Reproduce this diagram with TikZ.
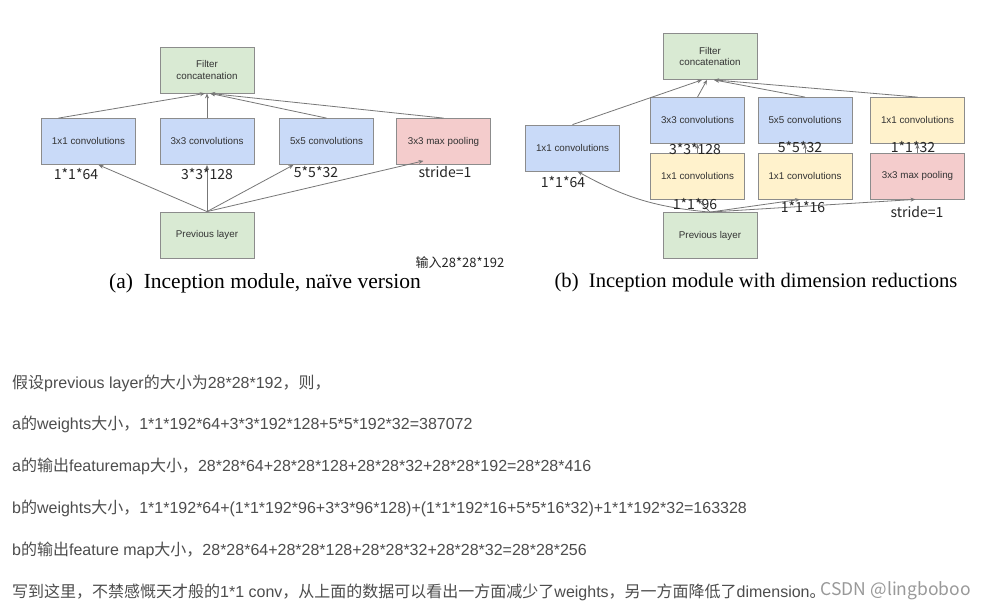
\documentclass[tikz,border=0pt]{standalone}
\usepackage{fontspec}
\setmainfont{Liberation Sans}
\newfontfamily\cjk{Noto Sans CJK SC}
\newfontfamily\capfont{Liberation Serif}
\usepackage{tikz}
\usetikzlibrary{arrows.meta}

\definecolor{boxline}{HTML}{8C8C8C}
\definecolor{convblue}{HTML}{C9DAF8}
\definecolor{catgreen}{HTML}{D9EAD3}
\definecolor{poolpink}{HTML}{F4CCCC}
\definecolor{redyellow}{HTML}{FFF2CC}
\definecolor{bodytext}{HTML}{4D4D4D}
\definecolor{linkgray}{HTML}{777777}

\tikzset{
  layer/.style={draw=boxline, line width=0.8pt, minimum width=94pt, minimum height=46pt,
    inner sep=1pt, align=center, text=black!80, font=\fontsize{9.8}{11.8}\selectfont},
  conv/.style={layer, fill=convblue},
  cat/.style={layer, fill=catgreen},
  pool/.style={layer, fill=poolpink},
  reduce/.style={layer, fill=redyellow},
  size/.style={font=\cjk\fontsize{14}{14}\selectfont, text=black!85, inner sep=0pt},
  link/.style={draw=linkgray, line width=0.8pt, -{Stealth[length=5pt,width=4pt]}},
  caption/.style={inner sep=0pt, font=\capfont\fontsize{21.5}{21.5}\selectfont},
  bodyline/.style={anchor=west, inner sep=0pt, text=bodytext, font=\fontsize{16}{16}\selectfont}
}

\begin{document}
\begin{tikzpicture}[x=1pt,y=-1pt]
\useasboundingbox[fill=white] (0,0) rectangle (983,609);

% (a) naive version
\node[cat]  (aconcat) at (207,70)    {Filter\\concatenation};
\node[conv] (aconv1)  at (88.5,141.5) {1x1 convolutions};
\node[conv] (aconv3)  at (207,141.5)  {3x3 convolutions};
\node[conv] (aconv5)  at (326.5,141.5) {5x5 convolutions};
\node[pool] (apool)   at (443.5,141.5) {3x3 max pooling};
\node[cat]  (aprev)   at (207,235)    {Previous layer};

\draw[link] ([xshift=-30pt]aconv1.north) -- ([xshift=-2pt]aconcat.south);
\draw[link] (aconv3.north) -- (aconcat.south);
\draw[link] (aconv5.north) -- ([xshift=3pt]aconcat.south);
\draw[link] (apool.north) -- ([xshift=3pt]aconcat.south);
\draw[link] (aprev.north) -- ([xshift=10pt]aconv1.south);
\draw[link] (aprev.north) -- (aconv3.south);
\draw[link] (aprev.north) -- ([xshift=-33pt]aconv5.south);
\draw[link] (aprev.north) -- ([xshift=-20pt,yshift=4pt]apool.south);

\node[size] (a1)    at (76,174)  {1*1*64};
\node[size] (a3)    at (207,174) {3*3*128};
\node[size] (a5)    at (316,172) {5*5*32};
\node[size] (astr)  at (445,172) {stride=1};
\node[size, font=\cjk\fontsize{13}{13}\selectfont] (ainput) at (460,263) {输入28*28*192};
\node[caption] (acap) at (265,283) {(a)\ \ Inception module, naïve version};

% (b) with dimension reductions
\node[cat]    (bconcat) at (710,56.5)   {Filter\\concatenation};
\node[conv]   (bconv1)  at (572.5,148)  {1x1 convolutions};
\node[conv]   (bconv3)  at (697.5,120.5) {3x3 convolutions};
\node[conv]   (bconv5)  at (805,120.5)   {5x5 convolutions};
\node[reduce] (bproj)   at (917.5,120.5) {1x1 convolutions};
\node[reduce] (bred3)   at (697.5,176)   {1x1 convolutions};
\node[reduce] (bred5)   at (805,176)     {1x1 convolutions};
\node[pool]   (bpool)   at (917.5,176)   {3x3 max pooling};
\node[cat]    (bprev)   at (710,235.5)   {Previous layer};

\draw[link] (bconv1.north) -- ([xshift=-8pt]bconcat.south);
\draw[link] (bconv3.north) -- ([xshift=-3pt]bconcat.south);
\draw[link] (bconv5.north) -- ([xshift=4pt]bconcat.south);
\draw[link] (bproj.north) -- ([xshift=4pt]bconcat.south);
\draw[link] (bred3.north) -- (bconv3.south);
\draw[link] (bred5.north) -- (bconv5.south);
\draw[link] (bpool.north) -- (bproj.south);
\draw[link] (bprev.north) to[bend left=12] ([xshift=5pt]bconv1.south);
\draw[link] (bprev.north) -- (bred3.south);
\draw[link] (bprev.north) -- ([xshift=-5pt]bred5.south);
\draw[link] (bprev.north) -- ([xshift=-2pt]bpool.south);

\node[size] (b64)   at (563,182) {1*1*64};
\node[size] (b128)  at (695,149) {3*3*128};
\node[size] (b32a)  at (800,147) {5*5*32};
\node[size] (b32b)  at (913,147) {1*1*32};
\node[size] (b96)   at (695,204) {1*1*96};
\node[size] (b16)   at (803,207) {1*1*16};
\node[size] (bstr)  at (917,212) {stride=1};
\node[caption, font=\capfont\fontsize{20.6}{20.6}\selectfont] (bcap) at (756,283)
  {(b)\ \ Inception module with dimension reductions};

% text below
\node[bodyline] (t1) at (12,383) {{\cjk 假设}previous layer{\cjk 的大小为}28*28*192{\cjk ，则，}};
\node[bodyline] (t2) at (12,424) {a{\cjk 的}weights{\cjk 大小，}1*1*192*64+3*3*192*128+5*5*192*32=387072};
\node[bodyline] (t3) at (12,466) {a{\cjk 的输出}featuremap{\cjk 大小，}28*28*64+28*28*128+28*28*32+28*28*192=28*28*416};
\node[bodyline] (t4) at (12,508) {b{\cjk 的}weights{\cjk 大小，}1*1*192*64+(1*1*192*96+3*3*96*128)+(1*1*192*16+5*5*16*32)+1*1*192*32=163328};
\node[bodyline] (t5) at (12,550) {b{\cjk 的输出}feature map{\cjk 大小，}28*28*64+28*28*128+28*28*32+28*28*32=28*28*256};
\node[bodyline] (t6) at (12,592) {{\cjk 写到这里，不禁感慨天才般的}1*1 conv{\cjk ，从上面的数据可以看出一方面减少了}weights{\cjk ，另一方面降低了}dimension{\cjk 。}};
\node[anchor=east, inner sep=0pt, text=black!40, font=\cjk\fontsize{17.5}{17.5}\selectfont] (mark) at (971,591) {CSDN @lingboboo};
\end{tikzpicture}
\end{document}
